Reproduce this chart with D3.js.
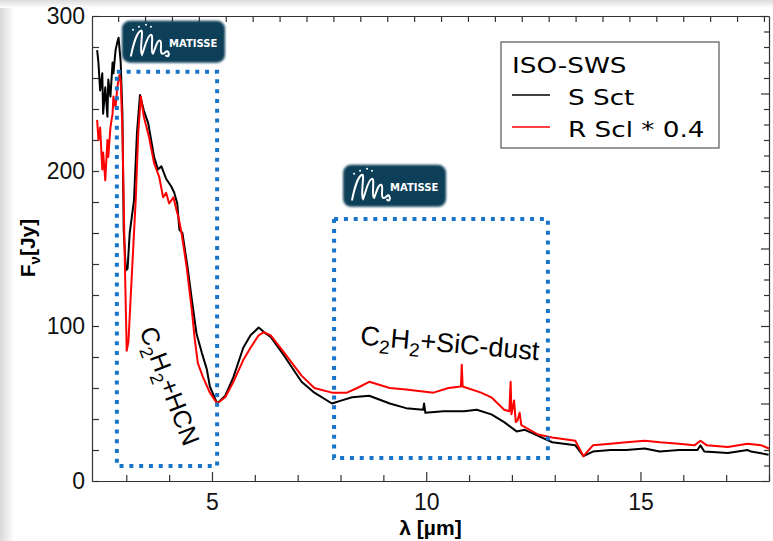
<!DOCTYPE html>
<html>
<head>
<meta charset="utf-8">
<script src="https://cdn.jsdelivr.net/npm/d3@7"></script>
<style>
  body { margin: 0; background: #fff; }
  svg { display: block; }
</style>
</head>
<body>
<div id="chart"></div>
<script>
// S Sct (ISO-SWS), wavelength in micron / flux in Jy
const sSctWave = [2.32, 2.35, 2.39, 2.44, 2.46, 2.51, 2.56, 2.58, 2.63, 2.68, 2.70, 2.75, 2.79, 2.82, 2.87, 2.91,
  2.94, 2.99, 3.03, 3.08, 3.18, 3.25, 3.32, 3.41, 3.51, 3.58, 3.65, 3.74, 3.82, 3.93, 4.05, 4.12, 4.19, 4.24,
  4.31, 4.43, 4.53, 4.64, 4.76, 4.88, 4.95, 5.12, 5.31, 5.50, 5.73, 5.90, 6.09, 6.26, 6.37, 6.68, 7.09, 7.39,
  7.80, 8.03, 8.27, 8.67, 9.15, 9.53, 9.93, 9.95, 9.98, 10.40, 10.88, 11.18, 11.52, 11.82, 12.11, 12.30, 12.46,
  12.94, 13.48, 13.67, 13.89, 14.30, 14.67, 15.10, 15.45, 15.90, 16.33, 16.40, 16.49, 17.04, 17.50, 17.58, 17.99];
const sSctFlux = [278, 270, 252, 263, 237, 254, 235, 259, 248, 270, 263, 278, 283, 286, 270, 237,
  162, 136, 137, 160, 181, 225, 249, 239, 231, 220, 209, 201, 203, 195, 190, 186, 179, 162,
  160, 138, 117, 95, 83, 72, 61, 50, 55, 67, 86, 94, 99, 95, 93, 81, 64, 57,
  50, 52, 54, 55, 50, 47, 46, 50, 44, 45, 45, 46, 43, 38, 32, 33, 31,
  25, 23, 16, 19, 20, 20, 21, 19, 20, 20, 23, 19, 18, 20, 19, 17];

// R Scl * 0.4 (ISO-SWS)
const rSclWave = [2.32, 2.35, 2.39, 2.44, 2.46, 2.51, 2.56, 2.58, 2.63, 2.68, 2.70, 2.75, 2.79, 2.84, 2.87, 2.91,
  2.96, 3.01, 3.05, 3.10, 3.18, 3.22, 3.28, 3.34, 3.41, 3.53, 3.65, 3.77, 3.86, 3.93, 4.00, 4.10, 4.17, 4.22,
  4.29, 4.41, 4.53, 4.60, 4.67, 4.79, 4.95, 5.12, 5.31, 5.50, 5.73, 5.90, 6.09, 6.21, 6.37, 6.68, 7.09, 7.39,
  7.80, 8.15, 8.39, 8.67, 9.15, 9.53, 10.17, 10.52, 10.81, 10.83, 10.85, 11.28, 11.52, 11.82, 11.94, 11.97,
  11.99, 12.05, 12.09, 12.13, 12.18, 12.22, 12.61, 12.94, 13.48, 13.67, 13.89, 14.30, 14.67, 15.10, 15.45,
  15.90, 16.26, 16.40, 16.55, 17.04, 17.50, 17.82, 18.00];
const rSclFlux = [233, 220, 228, 201, 212, 194, 220, 209, 228, 237, 248, 241, 254, 262, 258, 226,
  150, 84, 90, 117, 160, 181, 225, 248, 235, 222, 205, 196, 183, 186, 179, 183, 175, 170,
  160, 138, 110, 91, 76, 67, 57, 50, 54, 64, 78, 86, 94, 96, 94, 83, 68, 60,
  57, 57, 60, 64, 60, 59, 57, 60, 61, 75, 61, 57, 54, 46, 45, 64,
  43, 52, 38, 39, 44, 36, 30, 28, 26, 16, 23, 24, 25, 26, 25,
  24, 23, 26, 23, 22, 24, 23, 21];

const xTickLabels = [5, 10, 15];
const yTickLabels = [0, 100, 200, 300];
const legendTitle = "ISO-SWS";
const seriesNames = ["S Sct", "R Scl * 0.4"];
const seriesColors = ["#000000", "#ff0000"];

const width = 773, height = 541;

const x = d3.scaleLinear().domain([2.2, 18.0]).range([92, 769]);
const y = d3.scaleLinear().domain([0, 300]).range([481, 16]);

const svg = d3.select("#chart").append("svg")
    .attr("width", width)
    .attr("height", height);

const defs = svg.append("defs");
const leftShade = defs.append("linearGradient").attr("id", "leftShade");
leftShade.append("stop").attr("offset", "0%").attr("stop-color", "#d9d9d9");
leftShade.append("stop").attr("offset", "100%").attr("stop-color", "#ffffff");
const topShade = defs.append("linearGradient").attr("id", "topShade")
    .attr("x1", 0).attr("y1", 0).attr("x2", 0).attr("y2", 1);
topShade.append("stop").attr("offset", "0%").attr("stop-color", "#dcdcdc");
topShade.append("stop").attr("offset", "100%").attr("stop-color", "#ffffff");
defs.append("filter").attr("id", "soft")
    .append("feGaussianBlur").attr("stdDeviation", 0.8);

// slide-like shading on the edges
svg.append("rect").attr("width", width).attr("height", height).attr("fill", "#fff");
svg.append("rect").attr("width", 14).attr("height", height).attr("fill", "url(#leftShade)");
svg.append("rect").attr("width", width).attr("height", 8).attr("fill", "url(#topShade)");

// axes
const fontAxis = "'Liberation Sans', Arial, sans-serif";
const xAxis = svg.append("g")
    .attr("transform", `translate(0,${y(0)})`)
    .call(d3.axisBottom(x)
        .tickValues(d3.range(3, 18.5, 1))
        .tickSizeInner(-6)
        .tickSizeOuter(0)
        .tickPadding(13)
        .tickFormat(d => xTickLabels.includes(d) ? d : ""));
xAxis.selectAll(".tick line").attr("y2", d => xTickLabels.includes(d) ? -9 : -6);

const yAxis = svg.append("g")
    .attr("transform", `translate(${x.range()[0]},0)`)
    .call(d3.axisLeft(y)
        .tickValues(d3.range(0, 301, 20))
        .tickSizeInner(-7)
        .tickSizeOuter(0)
        .tickPadding(7)
        .tickFormat(d => yTickLabels.includes(d) ? d : ""));

// top axis carries its own tick spacing
const topAxis = svg.append("g")
    .attr("transform", `translate(0,${y(300)})`)
    .call(d3.axisTop(x)
        .tickValues(d3.range(2.81, 17.95, 0.628))
        .tickSizeInner(-6)
        .tickSizeOuter(0)
        .tickFormat(""));

const rightAxis = svg.append("g")
    .attr("transform", `translate(${x.range()[1]},0)`)
    .call(d3.axisRight(y)
        .tickValues(d3.range(0, 301, 10))
        .tickSizeInner(-5)
        .tickSizeOuter(0)
        .tickFormat(""));
rightAxis.selectAll(".tick line").attr("x2", d => d % 50 === 0 ? -8 : -5);

[xAxis, yAxis, topAxis, rightAxis].forEach(g => {
    g.select(".domain").attr("stroke", "#333").attr("stroke-width", 1.2);
    g.selectAll(".tick line").attr("stroke", "#333").attr("stroke-width", 1.2);
    g.selectAll(".tick text")
        .attr("fill", "#111")
        .style("font-family", fontAxis)
        .style("font-size", "23px");
});

// spectra
const line = d3.line().x(d => x(d[0])).y(d => y(d[1]));
const series = [d3.zip(sSctWave, sSctFlux), d3.zip(rSclWave, rSclFlux)];
series.forEach((s, i) => {
    svg.append("path")
        .datum(s)
        .attr("fill", "none")
        .attr("stroke", seriesColors[i])
        .attr("stroke-width", 2)
        .attr("stroke-linejoin", "round")
        .attr("d", line);
});

// dotted feature boxes
const boxes = [
    { x0: 2.78, x1: 5.12, y0: 9.7, y1: 264 },
    { x0: 7.85, x1: 12.84, y0: 14.8, y1: 169 }
];
boxes.forEach(b => {
    svg.append("rect")
        .attr("x", x(b.x0))
        .attr("y", y(b.y1))
        .attr("width", x(b.x1) - x(b.x0))
        .attr("height", y(b.y0) - y(b.y1))
        .attr("fill", "none")
        .attr("stroke", "#1874c8")
        .attr("stroke-width", 4)
        .attr("stroke-dasharray", "4,5.8");
});

// MATISSE logos
function drawLogo(lx, ly) {
    const g = svg.append("g").attr("transform", `translate(${x(lx)},${y(ly)})`);
    g.append("rect")
        .attr("width", 103)
        .attr("height", 42)
        .attr("rx", 8)
        .attr("fill", "#0f3f59")
        .attr("filter", "url(#soft)");
    g.append("path")
        .attr("d", "M9,35 C11,25 15,11 19,10 C22,9 17,30 20,34 C22,30 25,14 29,14 C32,14 28,32 31,33 " +
            "C33,29 35,19 38,20 C41,21 37,31 40,33 C43,34 44,29 46,31 C48,34 46,37 44,35")
        .attr("fill", "none")
        .attr("stroke", "#fff")
        .attr("stroke-width", 2)
        .attr("stroke-linecap", "round");
    [[11, 9], [17, 6], [24, 4], [29, 6]].forEach(p => {
        g.append("circle").attr("cx", p[0]).attr("cy", p[1]).attr("r", 1).attr("fill", "#fff");
    });
    g.append("text")
        .attr("x", 47)
        .attr("y", 26)
        .attr("fill", "#fff")
        .style("font-family", "'DejaVu Sans', sans-serif")
        .style("font-weight", "bold")
        .style("font-size", "10px")
        .text("MATISSE");
}
drawLogo(2.90, 297);
drawLogo(8.06, 204);

// annotations with subscripts
function chemText(g, parts, size) {
    const t = g.append("text")
        .style("font-family", fontAxis)
        .style("font-size", size + "px")
        .attr("fill", "#000");
    parts.forEach(p => {
        if (p.sub) {
            t.append("tspan").attr("dy", 7).style("font-size", Math.round(size * 0.7) + "px").text(p.s);
        } else {
            t.append("tspan").attr("dy", p.after ? -7 : 0).text(p.s);
        }
    });
}
chemText(svg.append("g").attr("transform", `translate(${x(3.30)},${y(97)}) rotate(69)`), [
    { s: "C" }, { s: "2", sub: true }, { s: "H", after: true }, { s: "2", sub: true }, { s: "+HCN", after: true }
], 25);
chemText(svg.append("g").attr("transform", `translate(${x(8.45)},${y(88)}) rotate(5)`), [
    { s: "C" }, { s: "2", sub: true }, { s: "H", after: true }, { s: "2", sub: true }, { s: "+SiC-dust", after: true }
], 27);

// axis titles
svg.append("text")
    .attr("x", (x.range()[0] + x.range()[1]) / 2)
    .attr("y", 535)
    .attr("text-anchor", "middle")
    .style("font-family", fontAxis)
    .style("font-weight", "bold")
    .style("font-size", "21px")
    .text("λ [µm]");

const yTitle = svg.append("text")
    .attr("transform", "translate(35,248) rotate(-90)")
    .attr("text-anchor", "middle")
    .style("font-family", fontAxis)
    .style("font-weight", "bold")
    .style("font-size", "21px");
yTitle.append("tspan").text("F");
yTitle.append("tspan").attr("dy", 5).style("font-size", "15px").text("ν");
yTitle.append("tspan").attr("dy", -5).text("[Jy]");

// legend
const legend = svg.append("g").attr("transform", "translate(501,42)");
legend.append("rect")
    .attr("width", 218)
    .attr("height", 106)
    .attr("fill", "#fff")
    .attr("stroke", "#555")
    .attr("stroke-width", 1.2);
const legendFont = "'DejaVu Sans', Verdana, sans-serif";
legend.append("text")
    .attr("transform", "translate(11,31) scale(1.25,1)")
    .style("font-family", legendFont)
    .style("font-size", "21px")
    .text(legendTitle);
seriesNames.forEach((name, i) => {
    const row = legend.append("g").attr("transform", `translate(0,${53 + i * 32})`);
    row.append("line")
        .attr("x1", 11).attr("x2", 49)
        .attr("stroke", seriesColors[i])
        .attr("stroke-width", 1.5);
    row.append("text")
        .attr("transform", "translate(67,10) scale(1.25,1)")
        .style("font-family", legendFont)
        .style("font-size", "21px")
        .text(name);
});
</script>
</body>
</html>
